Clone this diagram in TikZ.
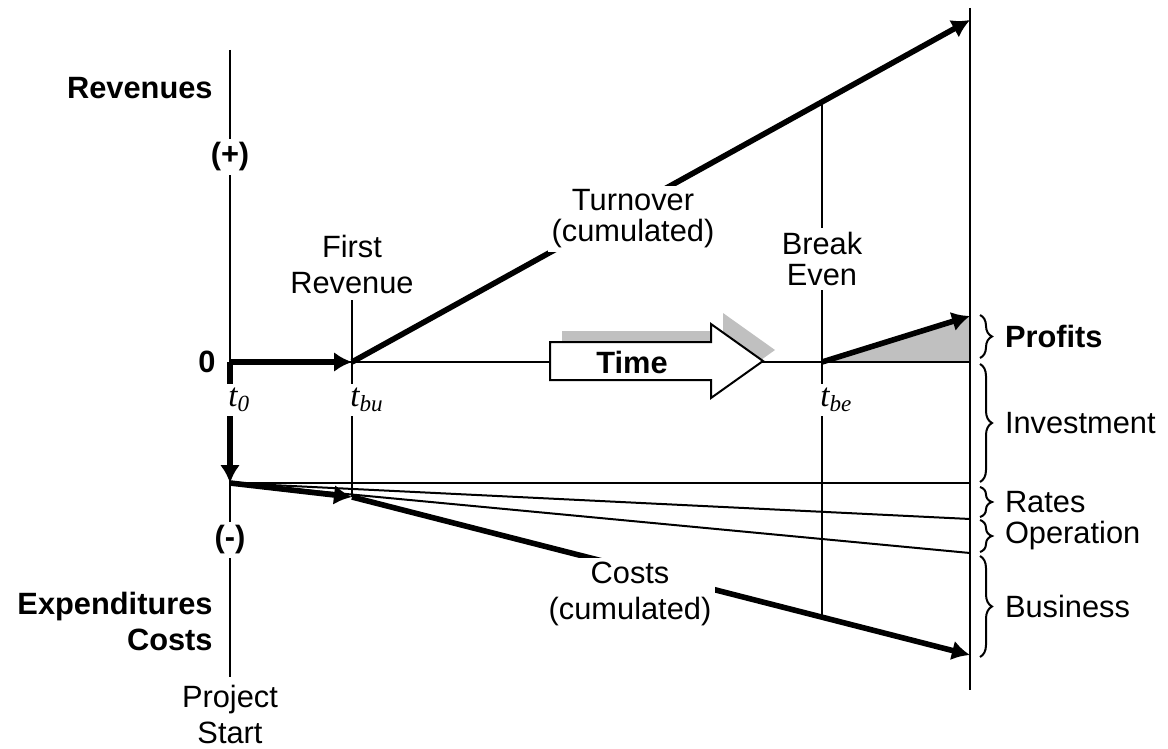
\documentclass[tikz,border=0pt]{standalone}
\usepackage{fontspec}
\setmainfont{Liberation Sans}
\newfontfamily\timesfont{Liberation Serif}
\usetikzlibrary{arrows.meta, positioning, decorations.pathreplacing}

\definecolor{shadegray}{RGB}{192,192,192}

\begin{document}
\begin{tikzpicture}[x=0.5pt, y=-0.5pt,
  thinline/.style={line width=1pt},
  thickarrow/.style={line width=2.8pt, -{Latex[length=9pt,width=10pt]}},
  txt/.style={font=\fontsize{15.4}{15.5}\selectfont, align=center, inner sep=2pt},
  txtwide/.style={font=\fontsize{15.4}{18}\selectfont, align=center, inner sep=2pt},
  bold/.style={font=\fontsize{15.4}{18}\selectfont\bfseries, inner sep=2pt},
  tlbl/.style={font=\fontsize{16.5}{17}\selectfont\timesfont\itshape, fill=white, inner sep=2pt, anchor=west},
  sumbrace/.style={decorate, decoration={brace, amplitude=6pt}, thinline}]
\useasboundingbox (0,0) rectangle (1168,749);

% time axis points
\coordinate (t0) at (230,362);
\coordinate (tbu) at (352,362);
\coordinate (tbe) at (822,362);
\coordinate (tend) at (970,362);
% cost points
\coordinate (c0) at (230,483);
\coordinate (cbu) at (352,497);
% ends on the right axis
\coordinate (turn) at (970,20);
\coordinate (prof) at (970,316);
\coordinate (inv) at (970,483);
\coordinate (rate) at (970,519);
\coordinate (oper) at (970,553);
\coordinate (cost) at (970,655);
% axis ends
\coordinate (ytop) at (230,50);
\coordinate (ybot) at (230,677);
\coordinate (rtop) at (970,8);
\coordinate (rbot) at (970,690);
\coordinate (butop) at (352,300);
\coordinate (betop) at (822,102);
\coordinate (bebot) at (822,617);

% profit area
\fill[shadegray] (tbe) -- (prof) -- (tend) -- cycle;

% axes and guide lines
\draw[thinline] (ytop) -- (ybot);
\draw[thinline] (rtop) -- (rbot);
\draw[thinline] (t0) -- (tend);
\draw[thinline] (butop) -- (cbu);
\draw[thinline] (betop) -- (bebot);
\draw[thinline] (c0) -- (inv);
\draw[thinline] (c0) -- (rate);
\draw[thinline] (c0) -- (oper);

% cumulated turnover and costs
\draw[thickarrow] (t0) -- (tbu);
\draw[thickarrow] (tbu) -- (turn);
\draw[thickarrow] (tbe) -- (prof);
\draw[thickarrow] (t0) -- (c0);
\draw[thickarrow] (c0) -- (cbu);
\draw[thickarrow] (cbu) -- (cost);

% big time arrow with its shadow
\fill[shadegray, shift={(12,-11)}] (550,342) -- (711,342) -- (711,324) -- (763,361)
  -- (711,398) -- (711,380) -- (550,380) -- cycle;
\filldraw[thinline, fill=white] (550,342) -- (711,342) -- (711,324) -- (763,361)
  -- (711,398) -- (711,380) -- (550,380) -- cycle;
\node[bold] (time) at (632,362) {Time};

% curve labels
\node[txt, fill=white] (turnlbl) at (633,219) {Turnover\\(cumulated)};
\node[txt, fill=white] (belbl) at (822,259) {Break\\Even};
\node[txtwide] (frlbl) at (352,264) {First\\Revenue};
\node[txtwide, fill=white] (costlbl) at (630,594) {Costs\\(cumulated)};

% left axis labels
\node[bold, anchor=east] (rev) at (217,88) {Revenues};
\node[bold, fill=white] (plus) at (230,157) {(+)};
\node[bold] (zero) at (207,362) {0};
\node[bold, fill=white] (minus) at (230,540) {(-)};
\node[bold, anchor=east, align=right] (exp) at (217,621) {Expenditures\\Costs};
\node[txtwide, below=2pt of ybot] (start) {Project\\Start};

% time marks
\node[tlbl] (lt0) at (224,400) {t\textsubscript{0}};
\node[tlbl] (ltbu) at (346,400) {t\textsubscript{bu}};
\node[tlbl] (ltbe) at (816,400) {t\textsubscript{be}};

% braces on the right
\draw[sumbrace] (980,315) -- (980,358) node[bold, midway, right=10pt] (lprof) {Profits};
\draw[sumbrace] (980,364) -- (980,482) node[txt, midway, right=10pt] (linv) {Investment};
\draw[sumbrace] (980,487) -- (980,517) node[txt, midway, right=10pt] (lrate) {Rates};
\draw[sumbrace] (980,520) -- (980,552) node[txt, midway, right=10pt] (loper) {Operation};
\draw[sumbrace] (980,556) -- (980,657) node[txt, midway, right=10pt] (lbus) {Business};
\end{tikzpicture}
\end{document}
